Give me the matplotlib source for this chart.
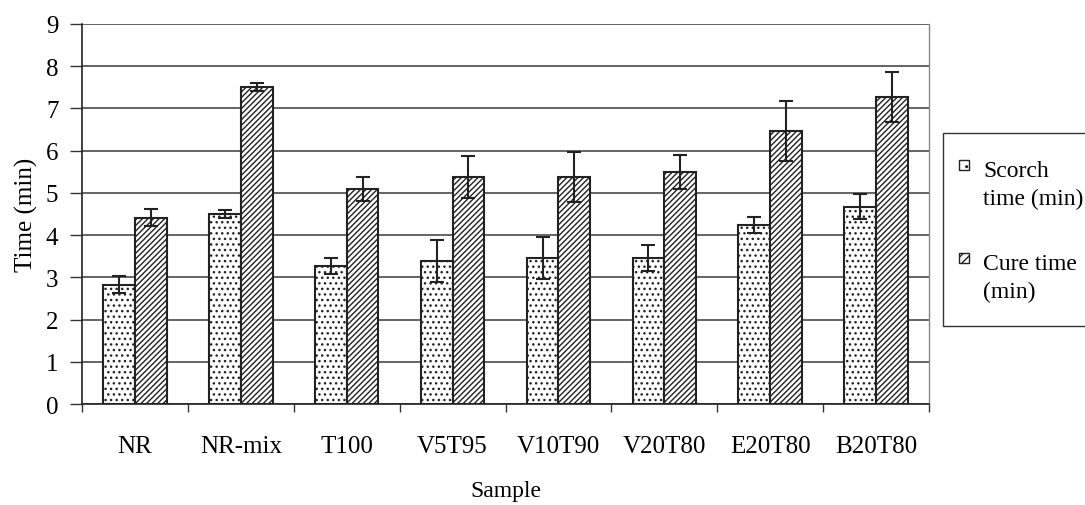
import numpy as np
import matplotlib
matplotlib.use("Agg")
import matplotlib.pyplot as plt
from matplotlib.patches import Rectangle

samples = ["NR", "NR-mix", "T100", "V5T95", "V10T90", "V20T80", "E20T80", "B20T80"]
scorch = [2.82, 4.50, 3.27, 3.38, 3.46, 3.46, 4.24, 4.67]
scorch_err = [0.20, 0.10, 0.19, 0.50, 0.50, 0.31, 0.20, 0.30]
cure = [4.41, 7.51, 5.09, 5.38, 5.38, 5.50, 6.47, 7.27]
cure_err = [0.20, 0.10, 0.28, 0.50, 0.59, 0.40, 0.71, 0.60]
legend_lines = [["Scorch", "time (min)"], ["Cure time", "(min)"]]

plt.rcParams["font.family"] = ["Liberation Serif", "DejaVu Serif"]
plt.rcParams["hatch.linewidth"] = 1.0

W, H = 1085, 506
fig = plt.figure(figsize=(W / 100, H / 100), dpi=100)
ax = fig.add_axes([82 / W, 1 - 405 / H, (929 - 82) / W, (405 - 25) / H])

x = np.arange(len(samples))
w = 0.3
hatches = ["...", "//////"]
ax.bar(x - w / 2, scorch, w, color="white", edgecolor="#222222", linewidth=1.5,
       hatch=hatches[0], zorder=3)
ax.bar(x + w / 2, cure, w, color="white", edgecolor="#222222", linewidth=1.5,
       hatch=hatches[1], zorder=3)
ax.errorbar(x - w / 2, scorch, yerr=scorch_err, fmt="none", ecolor="#222222",
            elinewidth=1.5, capsize=5, capthick=1.5, zorder=4)
ax.errorbar(x + w / 2, cure, yerr=cure_err, fmt="none", ecolor="#222222",
            elinewidth=1.5, capsize=5, capthick=1.5, zorder=4)

ax.set_xlim(-0.5, len(samples) - 0.5)
ax.set_ylim(0, 9)
ax.set_yticks(range(10))
ax.yaxis.grid(True, color="#3a3a3a", linewidth=1.1, zorder=0)
ax.set_axisbelow(True)

ax.set_xticks(x)
ax.set_xticklabels(samples, fontsize=18)
ax.set_xticks(np.arange(-0.5, len(samples)), minor=True)
ax.tick_params(axis="x", which="major", length=0, pad=22)
ax.tick_params(axis="x", which="minor", length=6, width=1, color="#333333")
ax.tick_params(axis="y", labelsize=18, length=9, width=1, color="#333333", pad=8)

for s in ["left", "bottom"]:
    ax.spines[s].set_color("#222222")
    ax.spines[s].set_linewidth(1.2)
ax.spines["top"].set_visible(False)
ax.spines["right"].set_color("#888888")
ax.spines["right"].set_linewidth(1.0)

ax.set_ylabel("Time (min)", fontsize=18, labelpad=6)
ax.set_xlabel("Sample", fontsize=17, labelpad=17)

# legend box drawn by hand so that the keys sit beside the first text line
fig.patches.append(Rectangle((943 / W, 1 - 327 / H), 150 / W, (327 - 134) / H,
                             transform=fig.transFigure, facecolor="white",
                             edgecolor="#333333", linewidth=1.0, clip_on=False))
for i, lines in enumerate(legend_lines):
    base = 177 + i * 93
    fig.patches.append(Rectangle((959 / W, 1 - (base - 6) / H), 10 / W, 10 / H,
                                 transform=fig.transFigure, facecolor="white",
                                 edgecolor="#222222", linewidth=1.0,
                                 hatch=["..", "////"][i]))
    for j, line in enumerate(lines):
        fig.text(983 / W, 1 - (base + j * 28) / H, line, fontsize=17,
                 va="baseline", ha="left")

fig.savefig("out.png", dpi=100)
